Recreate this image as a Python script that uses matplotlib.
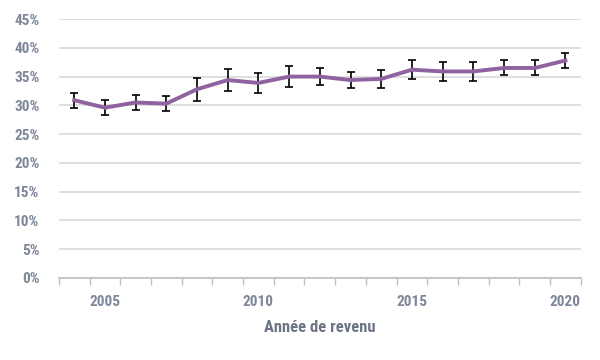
import matplotlib.pyplot as plt
from matplotlib.ticker import FixedLocator, FuncFormatter

annees = list(range(2004, 2021))
taux = [30.9, 29.6, 30.5, 30.3, 32.8, 34.4, 33.9, 35.0, 35.0, 34.4, 34.6,
        36.2, 35.9, 35.9, 36.5, 36.5, 37.8]
erreur = [1.3, 1.3, 1.35, 1.3, 2.0, 1.95, 1.8, 1.8, 1.5, 1.4, 1.5,
          1.6, 1.7, 1.7, 1.3, 1.3, 1.3]
etiquettes = ["2005", "2010", "2015", "2020"]

plt.rcParams['font.family'] = ['Roboto Condensed', 'Roboto', 'DejaVu Sans']
gris = '#7d8799'

fig = plt.figure(figsize=(6, 3.6), dpi=100)
ax = fig.add_axes([0.098, 0.228, 0.87, 0.719])

x = list(range(len(annees)))
ax.errorbar(x, taux, yerr=erreur, color='#8f62a0', lw=2.8, ecolor='black',
            elinewidth=1.2, capsize=3.2, capthick=1.2, zorder=3)

ax.set_xlim(-0.5, len(annees) - 0.5)
ax.set_ylim(0, 45)
ax.set_yticks(range(0, 46, 5))
ax.yaxis.set_major_formatter(FuncFormatter(lambda v, p: "%d%%" % v))
ax.grid(axis='y', color='#d9d9d9', lw=1.2, zorder=0)

pos = [annees.index(int(e)) for e in etiquettes]
ax.set_xticks(pos)
ax.set_xticklabels(etiquettes)
ax.xaxis.set_minor_locator(FixedLocator([i - 0.5 for i in range(len(annees) + 1)]))
ax.tick_params(axis='x', which='major', length=0, pad=12)
ax.tick_params(axis='x', which='minor', length=5, color='#bfbfbf', width=1)
ax.tick_params(axis='y', length=0, pad=14)
for lab in ax.get_xticklabels() + ax.get_yticklabels():
    lab.set_color(gris)
    lab.set_fontsize(11)
    lab.set_fontweight('bold')

for s in ['top', 'right', 'left']:
    ax.spines[s].set_visible(False)
ax.spines['bottom'].set_color('#bfbfbf')
ax.spines['bottom'].set_linewidth(1.2)

ax.set_xlabel("Année de revenu", color='#6d7585', fontsize=12,
              fontweight='bold', labelpad=8)

fig.savefig("out.png")
